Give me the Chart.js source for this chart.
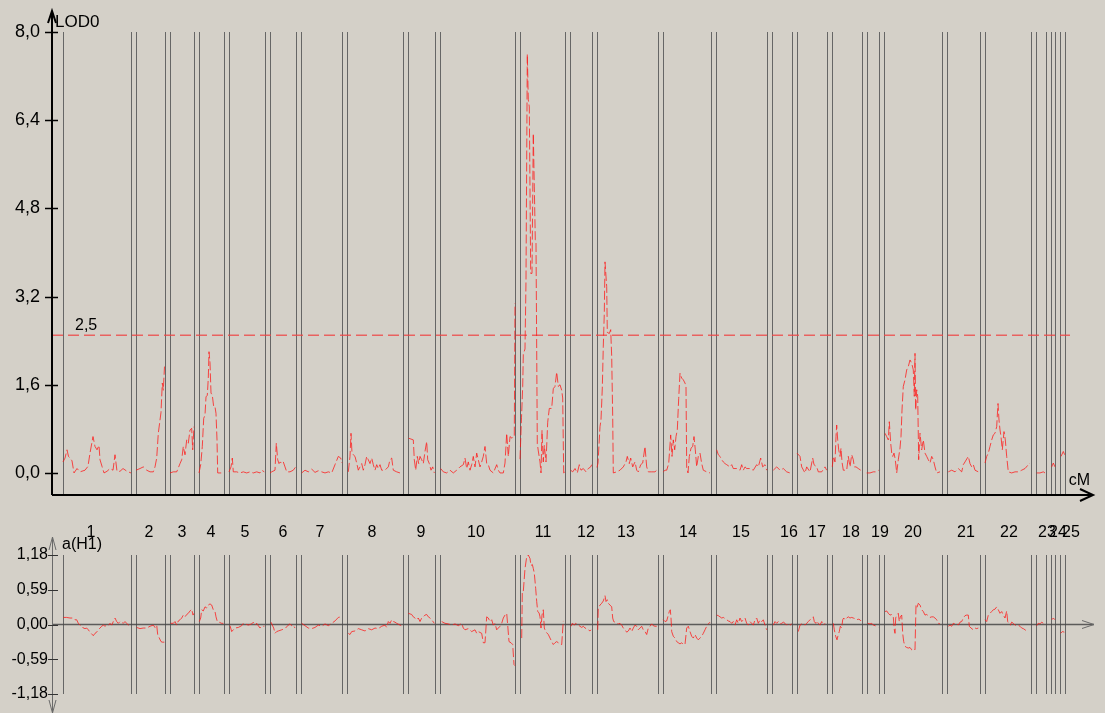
<!DOCTYPE html>
<html><head><meta charset="utf-8">
<script src="https://cdn.jsdelivr.net/npm/chart.js@4.4.1/dist/chart.umd.min.js"></script>
<style>
html,body{margin:0;padding:0;background:#d4d0c8;width:1105px;height:713px;overflow:hidden;}
#wrap{position:relative;width:1105px;height:713px;background:#d4d0c8;}
canvas{position:absolute;left:0;}
#top{top:0;} #bot{top:505px;}
</style></head><body>
<div id="wrap"><canvas id="top" width="1105" height="505"></canvas><canvas id="bot" width="1105" height="208"></canvas></div>
<script>
// ---- chromosomes (cumulative cM) ----
const chrNames = ['1','2','3','4','5','6','7','8','9','10','11','12','13','14','15','16','17','18','19','20','21','22','23','24','25'];
const chrStart = [0,73,107,136,166,207,238,284,345,377,457,507,534,599.7,653,709,734,768.7,803.7,821,884,921.5,973,987.7,997.3];
const chrEnd   = [68,102,131,161,202,233,279,340,372,452,502,529,594.7,648,704,729,763.7,798.7,816,879,916.7,968,982.7,992.3,1002];
const chrLabelAt = [28,86,119,148,182,220,257,309,358,413,480,523,563,625,678,726,754,788,817,850,903,946,984,995,1008];

// ---- axes ----
const lodTicks = [0, 1.6, 3.2, 4.8, 6.4, 8.0];
const effTicks = [-1.18, -0.59, 0, 0.59, 1.18];
const threshold = 2.5;
const thresholdSpan = [-11, 1007];
const xRange = [-11, 1027];

// ---- LOD0 profile [cM, LOD] ----
const lodTrace = [
[0,0.2],[2,0.27],[4,0.42],[5.5,0.3],[7,0.27],[9,0.22],[11,0],[14,0.08],[17,0.02],[22,0.05],[25,0.12],[27,0.36],[30,0.66],[32,0.48],[34,0.42],[36,0.5],[37,0.24],[39,0.12],[41,0],[44,0.03],[47,0.08],[50,0.05],[52,0.33],[54,0.03],[57,0.03],[60,0.08],[64,0.03],[68,0],
[73,0.05],[77,0.08],[80.3,0.11],[83.7,0.05],[87,0.02],[90.3,0.02],[92,0.11],[93.7,0.27],[95.3,0.72],[98,1.1],[99.3,1.63],[100.3,1.5],[101.5,1.93],
[107,0],[110.3,0.02],[113.7,0.02],[117,0.17],[118.7,0.24],[120.3,0.48],[122,0.33],[123.7,0.6],[125.3,0.54],[127,0.78],[128.7,0.81],[129.7,0.42],[131,0.84],
[136,0],[137.7,0.15],[139.3,0.48],[140.7,0.99],[142,1.05],[143,1.38],[144.3,1.41],[145.3,1.72],[146,2.2],[147,2.0],[148,1.45],[149.3,1.41],[150.7,1.2],[152,1.2],[153,1.08],[154,0.6],[154.7,0],[157,0],[161,0],
[166,0.02],[168,0.11],[169.3,0.27],[170.3,0.02],[173.7,0.02],[177,0],[180.3,0.02],[183.7,0],[187,0.02],[190.3,0],[193.7,0.02],[197,0],[198.7,0.05],[201.3,0.02],
[207,0],[208.7,0.02],[212,0.05],[213.3,0.54],[214.7,0.24],[216,0.17],[217.3,0.2],[218.7,0.17],[220.3,0.2],[222,0.11],[223.7,0.02],[227,0.02],[230.3,0.05],[232.7,0.11],
[238.7,0],[242,0.05],[245.3,0.02],[248.7,0.07],[252,0.01],[255.3,0.04],[258.7,0.02],[262,0],[265.3,0.02],[268.7,0],[272,0.15],[275.3,0.3],[277.7,0.27],[279,0.18],
[285.3,0.02],[287,0.3],[288,0.72],[289,0.36],[290.3,0.33],[292,0.3],[293.7,0.18],[295.3,0.05],[297,0.11],[298.7,0.17],[300.3,0.05],[302,0.15],[303.7,0.3],[305.3,0.24],[307,0.17],[308.7,0.27],[310.3,0.15],[312,0.05],[313.7,0.15],[315.3,0.08],[317,0.15],[318.7,0.05],[322,0.05],[325.3,0.11],[327,0.24],[328.7,0.27],[330.3,0.05],[333.7,0.02],[337,0],[339.7,0],
[345.7,0.63],[350.3,0.6],[351.3,0.24],[352.7,0.05],[354.3,0.3],[355.7,0.17],[357,0.3],[358.7,0.24],[360.3,0.17],[362,0.39],[363.7,0.57],[364.7,0.24],[366.3,0.17],[368,0.05],[369.7,0.11],[371.3,0],
[377.7,0.08],[380.3,0.02],[383.7,0],[387,0.05],[390.3,0],[393.7,0.05],[397,0.11],[400.3,0.15],[402,0.27],[403.7,0.08],[405.3,0.2],[407,0.05],[408.7,0.15],[410.3,0.3],[412,0.11],[413.7,0.36],[415.3,0.24],[417,0.11],[418.7,0.2],[420.3,0.3],[422,0.48],[423.7,0.17],[425.3,0.15],[427,0.05],[430.3,0],[433.7,0.15],[435.3,0.05],[437,0],[440.3,0],[442,0.18],[443.7,0.72],[445.3,0.3],[447,0.66],[449,0.63],[450.3,0.66],[451.3,0.66],[452,3.08],
[457,0.25],[458.5,1.0],[459.7,1.57],[460.3,2.15],[462,2.25],[463,3.5],[464.3,7.6],[465.3,6.77],[466.3,6.64],[467.7,3.62],[469,3.62],[470.3,6.16],[471.3,5.19],[472.3,4.23],[473,4.2],[474.3,0.53],[475.3,0.4],[477,0.2],[478,0],[479,0.77],[480.3,0.2],[481.3,0.5],[483,0.2],[484.7,0.92],[486.3,1.17],[488.7,1.17],[490.3,1.53],[492,1.57],[493.7,1.83],[495.3,1.57],[497,1.6],[498.7,1.5],[499.7,1.36],[500.7,0],[502,0.02],
[507.7,0.05],[509.7,0.02],[512,0.08],[514.3,0],[516.3,0.15],[518,0.05],[520.3,0.08],[523,0.02],[525.3,0.08],[527.7,0.11],[528.7,0.15],
[534,0.1],[535,0.18],[537,0.84],[538,0.96],[539.3,1.54],[540.3,2.3],[541.3,2.9],[542,3.83],[543.7,3.38],[544.3,2.55],[546.3,2.53],[547.7,2.6],[548.7,2.11],[549.7,1.02],[550.3,0],[553.7,0.02],[557,0.05],[560.3,0.11],[563,0.2],[564.3,0.3],[566.3,0.17],[567.7,0.27],[569.7,0.11],[572,0.2],[573.7,0.05],[575.3,0.02],[577.7,0.15],[579.7,0.18],[582,0.48],[583.7,0.11],[585.3,0.02],[588.7,0.02],[592,0.02],[593.7,0.05],
[600.3,0.02],[602,0.05],[603.7,0.05],[605.7,0.17],[607.7,0.69],[609,0.3],[610.3,0.6],[611.7,0.42],[613,0.66],[614.3,0.78],[615.7,1.35],[617,1.81],[618.7,1.72],[620.3,1.69],[622,1.63],[623,1.57],[623.7,0.1],[625,0],[626.3,0.3],[628,0.45],[629.7,0.48],[631,0.66],[632.3,0.42],[633.7,0.11],[635.3,0.3],[637,0.36],[638.7,0.17],[640.3,0.05],[643.7,0.02],[647,0],
[653.7,0.42],[655.3,0.33],[657,0.3],[658.7,0.24],[660.3,0.2],[662,0.17],[663.7,0.15],[667,0.11],[668.7,0.15],[670.3,0.08],[673.7,0.08],[677,0.05],[678.7,0.15],[680.3,0.05],[682,0.11],[683.7,0.08],[687,0.08],[690.3,0.05],[693.7,0.15],[695.3,0.11],[697.7,0.27],[699.7,0.11],[702,0.15],[703.7,0.05],
[710.3,0.05],[713.7,0.11],[717,0.05],[720.3,0.08],[723.7,0.02],[727,0],[728.7,0.02],
[734,0.36],[737,0.3],[738.7,0.11],[742,0],[743.7,0.11],[747,0.02],[749.7,0.27],[751,0.15],[753.7,0.11],[755.3,0.02],[758.7,0.02],[762,0.11],[763.7,0.05],
[769.3,0.11],[770.3,0.3],[772,0.2],[773,0.66],[773.7,0.87],[774.7,0.6],[775.7,0.42],[777,0.3],[778,0.45],[779,0.2],[780.3,0.05],[783.7,0.05],[785.3,0.3],[787,0.11],[788.7,0.33],[790.3,0.24],[791.3,0.11],[793,0.11],[795.3,0.08],[797.7,0.05],
[803.7,0],[807,0],[810.3,0.02],[813.7,0.02],[815.7,0.05],
[822,0.72],[823.7,0.66],[825.3,0.6],[826.3,0.93],[827.7,0.54],[828.7,0.36],[829.7,0.3],[831,0.36],[832.3,0.24],[833.7,0],[835.3,0.24],[837,0.45],[838,0.66],[839,1.14],[840.3,1.57],[842,1.69],[843.7,1.87],[845.3,1.93],[847,2.05],[848.7,1.99],[850.3,1.87],[851.3,1.39],[852,2.17],[852.7,1.14],[853.7,1.51],[854.7,1.39],[855.7,0.24],[857,0.72],[858.7,0.42],[860.3,0.6],[862,0.36],[863.7,0.3],[865.3,0.24],[867,0.18],[868.7,0.3],[870.3,0.24],[872,0.11],[873.7,0],[877,0.02],
[885.3,0.02],[888.7,0.05],[892,0.02],[895.3,0.08],[898.7,0.02],[900.3,0.15],[902,0.2],[905.3,0.3],[907,0.17],[908.7,0.11],[910.3,0.15],[912,0.05],[915.3,0.02],
[922,0.18],[923.7,0.3],[925.3,0.36],[927,0.48],[928.7,0.6],[930.3,0.69],[932,0.72],[933.7,0.84],[935,1.26],[936,0.96],[937,0.78],[938,0.66],[939.3,0.42],[941,0.75],[942.3,0.6],[943.7,0.3],[945.3,0.02],[948.7,0],[952,0.02],[955.3,0.02],[958.7,0.05],[962,0.08],[965.3,0.15],[967,0.18],
[973.7,0],[977,0],[980.3,0.02],[982,0],
[988.7,0.11],[990.3,0.18],[992,0.11],
[998,0.3],[1000.3,0.39],[1001.7,0.33]
];

// ---- additive effect a(H1) [cM, a] ----
const effTrace = [
[0.3,0.12],[3.7,0.12],[7,0.11],[10.3,0.11],[12,0.08],[13.7,0.08],[15.3,0.02],[17,-0.01],[18.7,-0.02],[20.3,-0.06],[22,-0.07],[23.7,-0.06],[25.3,-0.09],[27,-0.13],[28.7,-0.16],[30.3,-0.19],[32,-0.15],[33.7,-0.13],[35.3,-0.09],[37,-0.06],[38.7,-0.03],[40.3,-0.01],[42,-0.03],[43.7,-0.01],[45.3,-0.02],[47,0.02],[48.7,-0.01],[50.3,0.05],[52,0.11],[53.7,0.05],[55.3,0.02],[57,0.05],[58.7,0.04],[60.3,0.02],[62,0.05],[63.7,0.02],[65.3,-0.01],[67,-0.01],
[73.7,-0.05],[77,-0.07],[80.3,-0.06],[83.7,-0.06],[87,-0.03],[90.3,-0.01],[92,-0.05],[93.7,-0.01],[94.7,-0.17],[96.3,-0.23],[98,-0.29],[99.3,-0.3],[101.3,-0.3],
[107.7,0.02],[110.3,0.02],[112,0.05],[113.7,-0.01],[115.3,0.06],[117,0.08],[118.7,0.11],[120.3,0.16],[122,0.13],[123.7,0.17],[125.3,0.19],[127,0.23],[128.7,0.26],[130,0.16],[131,0.19],
[136.3,0.05],[137.7,0.11],[138.7,0.25],[140.3,0.23],[142,0.3],[143.7,0.28],[145.3,0.33],[147,0.35],[148.7,0.33],[150.3,0.25],[152,0.22],[153,0.13],[154.3,0.05],[156,0.04],[158.7,0.02],[160.3,0.02],
[167,-0.02],[168.7,-0.12],[170.3,-0.09],[172,-0.06],[175.3,-0.05],[178.7,-0.02],[180.3,0.02],[182,0.01],[185.3,-0.01],[188.7,0.01],[190.3,0.04],[192,-0.01],[193.7,0.02],[195.3,-0.02],[197,-0.06],[198.7,-0.03],[201.3,-0.03],
[208,0.04],[209.3,-0.01],[210.7,-0.06],[212,-0.15],[213.7,-0.12],[215.3,-0.11],[218.7,-0.09],[222,-0.07],[225.3,-0.01],[227,0.01],[228.7,-0.02],[230.3,-0.01],[232,-0.06],
[238.7,0.02],[242,-0.02],[245.3,-0.06],[248.7,-0.07],[252,-0.05],[255.3,-0.01],[258.7,-0.03],[262,0.01],[265.3,-0.02],[268.7,0.02],[272,0.06],[275.3,0.12],[278,0.13],
[285.3,-0.15],[287,-0.17],[288.7,-0.12],[292,-0.11],[295.3,-0.07],[298.7,-0.09],[302,-0.11],[305.3,-0.07],[308.7,-0.09],[312,-0.06],[315.3,-0.07],[318.7,-0.03],[322,-0.01],[323.7,-0.05],[325.3,0.05],[327,0.02],[328.7,0.08],[330.3,0.05],[332,0.04],[333.7,0.02],[337,-0.01],[338.7,-0.02],
[345.3,0.19],[348.7,0.17],[350.3,0.13],[352,0.11],[353.7,0.08],[355.3,0.11],[357,0.05],[358.7,0.11],[360.3,0.13],[362,0.16],[363.7,0.17],[365.3,0.13],[367,0.11],[368.7,0.08],[371.3,0.02],
[378.7,0.05],[382,0.02],[385.3,0.01],[388.7,-0.01],[392,0.01],[395.3,-0.02],[398.7,0.02],[400.3,-0.06],[402,-0.09],[405.3,-0.07],[408.7,-0.12],[412,-0.09],[413.7,-0.15],[415.3,-0.12],[418.7,-0.15],[420.3,-0.31],[422,-0.31],[423.7,0.13],[425.3,0.11],[427,0.05],[428.7,0.08],[430.3,-0.01],[432,0.02],[433.7,-0.09],[435.3,-0.06],[437,-0.03],[438.7,0.02],[440.3,0.11],[442,0.16],[443.7,0.19],[444.7,-0.01],[446,-0.29],[448,-0.31],[449.7,-0.34],[451,-0.68],[452,-0.7],
[458.7,-0.23],[459.3,0.56],[460.3,0.56],[462,0.95],[463.7,1.15],[465.3,1.18],[467,1.12],[468,1.0],[469.3,1.02],[470.3,0.95],[471.3,0.87],[472.7,0.61],[473.7,0.39],[474.7,0.22],[476,0.2],[477,0.13],[478,-0.06],[479,0.16],[480.3,0.25],[481.3,-0.06],[482.7,-0.12],[483.7,-0.14],[485.3,-0.17],[487,-0.23],[488.7,-0.29],[490.3,-0.34],[492,-0.31],[493.7,-0.29],[495.3,-0.31],[497,-0.34],[498.7,-0.34],[500.3,0.06],
[508,-0.03],[509.3,0.02],[511.3,-0.01],[512.7,0.02],[514,0.01],[515.3,-0.01],[517,-0.03],[518.7,-0.05],[520.3,-0.03],[522,-0.06],[523.7,-0.07],[525.3,-0.09],[527,-0.11],[528,-0.09],
[534.7,-0.09],[535.3,0.28],[537,0.33],[538.7,0.36],[540.3,0.4],[542,0.49],[543,0.39],[544.3,0.42],[545.3,0.36],[547,0.33],[548.7,0.3],[549.7,0.11],[550.7,0.05],[552,0.04],[553.7,0.02],[555.3,0.01],[557,0.02],[558.7,-0.01],[560.3,-0.06],[562,-0.09],[563.7,-0.13],[565.3,-0.11],[567,-0.06],[568.7,-0.12],[570.3,-0.06],[572,-0.01],[573.7,-0.03],[575.3,-0.09],[577,-0.06],[578.7,-0.03],[580.3,-0.09],[582,-0.12],[583.7,-0.17],[585.3,-0.06],[587,-0.03],[588.7,0.01],[590.3,-0.02],[592,-0.03],[593.7,-0.03],
[600.3,0.08],[602,0.05],[603.7,0.06],[605.3,0.16],[606.3,0.22],[607.3,0.25],[608,0.11],[608.7,-0.12],[610.3,-0.2],[612,-0.23],[613.7,-0.29],[615.3,-0.31],[617,-0.33],[618.7,-0.31],[620.3,-0.34],[622,-0.34],[623.7,-0.06],[625.3,-0.03],[627,-0.12],[628.7,-0.2],[630.3,-0.23],[632,-0.17],[633.7,-0.23],[635.3,-0.26],[637,-0.23],[638.7,-0.2],[640.3,-0.15],[642,-0.09],[643.7,-0.03],[645.3,0.01],[647,0.04],
[653.7,0.16],[655.3,0.15],[657,0.13],[658.7,0.11],[660.3,0.12],[662,0.1],[663.7,0.08],[665.3,0.06],[667,0.05],[668.7,0.02],[670.3,0.05],[672,-0.01],[673.7,0.08],[675.3,0.02],[677,0.11],[678.7,0.05],[680.3,0.08],[682,0.11],[683.7,0.02],[685.3,-0.01],[687,0.05],[688.7,0.02],[690.3,-0.01],[692,0.08],[693.7,0.11],[695.3,0.02],[697,0.08],[698.7,0.05],[700.3,0.08],[702,-0.01],[703.7,-0.09],
[710.3,-0.01],[712,0.05],[713.7,0.02],[715.3,0.05],[717,0.01],[718.7,0.02],[720.3,0.04],[722,0.02],[723.7,-0.01],[725.3,0.02],[727,-0.01],[728.7,0.01],
[735.3,-0.12],[737,-0.01],[738.7,0.01],[740.3,0.02],[742,-0.01],[743.7,0.02],[745.3,0.05],[747,0.08],[748.7,0.11],[750.3,0.13],[751.3,0.05],[752.7,0.02],[753.7,0.06],[755.3,0.02],[757,-0.01],[758.7,0.05],[760.3,-0.01],[762,0.02],
[770.3,0.02],[771.3,-0.09],[772.7,-0.2],[774,-0.26],[775.3,-0.17],[776.3,-0.12],[777.3,-0.03],[778.7,-0.06],[779.7,0.08],[780.7,0.11],[782,0.08],[783.7,0.11],[785.3,0.13],[787,0.11],[788.7,0.12],[790.3,0.11],[792,0.1],[793.7,0.08],[795.3,0.09],[797,0.08],[798,0.06],
[804.7,0.02],[807,0.01],[808.7,0.02],[810.3,-0.01],[812,-0.02],[813.7,-0.03],[815.3,-0.05],
[822,0.22],[823.7,0.23],[825.3,0.19],[827,0.16],[828.7,0.17],[830.3,0.13],[831.3,-0.09],[832,-0.15],[832.7,0.11],[833.7,0.16],[835.3,0.19],[836.3,0.05],[837.3,0.13],[838.7,0.16],[839.7,-0.15],[840.7,-0.29],[842,-0.37],[843.7,-0.39],[845.3,-0.4],[847,-0.39],[848.7,-0.43],[850.3,-0.41],[852,-0.43],[853,0.33],[854,0.29],[855.3,0.36],[857,0.33],[858.7,0.25],[860.3,0.22],[862,0.16],[863.7,0.17],[865.3,0.15],[867,0.12],[868.7,0.13],[870.3,0.13],[872,0.11],[873.7,0.08],[875.3,0.02],[877,0.01],
[885.3,-0.03],[887,-0.01],[888.7,-0.03],[890.3,0.02],[892,0.01],[893.7,0.02],[895.3,-0.01],[897,0.04],[898.7,0.05],[900.3,0.11],[902,0.15],[903.7,0.16],[905.3,0.16],[906.3,-0.03],[908,-0.06],[910.3,-0.09],[912,-0.06],[913.7,-0.07],[915.3,-0.06],
[922,0.08],[923.7,0.05],[925.3,0.16],[927,0.19],[928.7,0.22],[930.3,0.25],[932,0.26],[933.7,0.3],[935.3,0.25],[937,0.19],[938.7,0.22],[940.3,0.16],[942,0.11],[943.7,0.23],[944.7,0.05],[946,0.01],[947.3,-0.01],[948.7,0.04],[950.3,0.02],[952,-0.01],[953.7,-0.02],[955.3,-0.01],[957,-0.03],[958.7,-0.06],[960.3,-0.07],[962,-0.09],[963.7,-0.11],[965.3,-0.11],
[973.7,-0.02],[975.3,0.02],[977,0.01],[978.7,0.04],[980.3,0.02],
[988.7,0.08],[990.3,0.11],[992,0.08],
[997.7,-0.15],[999.3,-0.12],[1001.3,-0.13]
];

// ---- helpers ----
const FONT = '"Liberation Sans", Arial, Helvetica, sans-serif';
function chromosomeOf(x){ for(let i=chrStart.length-1;i>=0;i--){ if(x >= chrStart[i]-0.6) return i; } return 0; }
function withBreaks(trace){
  const out=[]; let prev=-1;
  trace.forEach(([x,y])=>{ const c=chromosomeOf(x); if(prev!==-1 && c!==prev) out.push({x:x-0.1,y:null}); out.push({x:x,y:y}); prev=c; });
  return out;
}
function drawChromLines(chart){
  const {ctx, chartArea:a, scales:{x}} = chart;
  ctx.save(); ctx.strokeStyle='#666'; ctx.lineWidth=1;
  chrStart.forEach((s,i)=>{ [s, chrEnd[i]].forEach(v=>{ const px=Math.round(x.getPixelForValue(v))+0.5; ctx.beginPath(); ctx.moveTo(px,a.top); ctx.lineTo(px,a.bottom); ctx.stroke(); }); });
  ctx.restore();
}
function fixAxis(s){ s.width = 52; s.paddingTop = 0; s.paddingBottom = 0; }
const traceStyle = {borderColor:'rgba(255,20,20,0.75)', borderWidth:1, borderDash:[9,3], pointRadius:0, spanGaps:false, tension:0};

const topDecor = {
  id:'topDecor',
  beforeDatasetsDraw(chart){ drawChromLines(chart); },
  afterDraw(chart){
    const {ctx, chartArea:a, scales:{x,y}} = chart;
    ctx.save();
    ctx.strokeStyle='#000'; ctx.lineWidth=2;
    ctx.beginPath(); ctx.moveTo(a.left, a.top-21); ctx.lineTo(a.left, a.bottom); ctx.stroke();
    ctx.beginPath(); ctx.moveTo(a.left-4, a.top-9); ctx.lineTo(a.left, a.top-21); ctx.lineTo(a.left+4, a.top-9); ctx.stroke();
    ctx.beginPath(); ctx.moveTo(a.left, a.bottom); ctx.lineTo(a.right+3, a.bottom); ctx.stroke();
    ctx.beginPath(); ctx.moveTo(a.right-10, a.bottom-6); ctx.lineTo(a.right+3, a.bottom); ctx.lineTo(a.right-10, a.bottom+6); ctx.stroke();
    ctx.lineWidth=1.5;
    lodTicks.forEach(v=>{ const py=Math.round(y.getPixelForValue(v))+0.5; ctx.beginPath(); ctx.moveTo(a.left-7,py); ctx.lineTo(a.left+6,py); ctx.stroke(); });
    ctx.fillStyle='#000'; ctx.font='17px '+FONT; ctx.textBaseline='middle'; ctx.textAlign='left';
    ctx.fillText('LOD0', a.left+3, a.top-10);
    ctx.font='16px '+FONT; ctx.textAlign='right';
    ctx.fillText('cM', a.right, a.bottom-14);
    ctx.textAlign='left';
    ctx.fillText(String(threshold).replace('.',','), x.getPixelForValue(thresholdSpan[0])+23, y.getPixelForValue(threshold)-10);
    ctx.restore();
  }
};

const botDecor = {
  id:'botDecor',
  beforeDatasetsDraw(chart){
    drawChromLines(chart);
    const {ctx, chartArea:a, scales:{y}} = chart;
    ctx.save(); ctx.strokeStyle='rgba(70,70,70,0.85)'; ctx.lineWidth=1.5;
    const y0=y.getPixelForValue(0);
    ctx.beginPath(); ctx.moveTo(a.left,y0); ctx.lineTo(a.right+4,y0); ctx.stroke();
    ctx.lineWidth=1; ctx.strokeStyle='#6a6a6a';
    ctx.beginPath(); ctx.moveTo(a.right-8,y0-4); ctx.lineTo(a.right+4,y0); ctx.lineTo(a.right-8,y0+4); ctx.stroke();
    ctx.restore();
  },
  afterDraw(chart){
    const {ctx, chartArea:a, scales:{x,y}} = chart;
    ctx.save();
    ctx.strokeStyle='#6a6a6a'; ctx.lineWidth=1;
    const ax=Math.round(a.left)+0.5;
    ctx.beginPath(); ctx.moveTo(ax, a.top-18); ctx.lineTo(ax, a.bottom+19); ctx.stroke();
    ctx.beginPath(); ctx.moveTo(ax-3.5, a.top-5); ctx.lineTo(ax, a.top-18); ctx.lineTo(ax+3.5, a.top-5); ctx.stroke();
    ctx.beginPath(); ctx.moveTo(ax-3.5, a.bottom+6); ctx.lineTo(ax, a.bottom+19); ctx.lineTo(ax+3.5, a.bottom+6); ctx.stroke();
    ctx.strokeStyle='#333';
    effTicks.forEach(v=>{ const py=Math.round(y.getPixelForValue(v))+0.5; ctx.beginPath(); ctx.moveTo(a.left-4,py); ctx.lineTo(a.left+6,py); ctx.stroke(); });
    ctx.fillStyle='#000'; ctx.font='16px '+FONT; ctx.textBaseline='middle'; ctx.textAlign='left';
    ctx.fillText('a(H1)', a.left+10, a.top-10);
    ctx.textAlign='center';
    chrNames.forEach((n,i)=>{ ctx.fillText(n, x.getPixelForValue(chrLabelAt[i]), a.top-22); });
    ctx.restore();
  }
};

Chart.defaults.font.family = FONT;

new Chart(document.getElementById('top'), {
  type:'line',
  data:{datasets:[
    Object.assign({data: withBreaks(lodTrace)}, traceStyle),
    {data: thresholdSpan.map(v=>({x:v,y:threshold})), borderColor:'rgba(238,70,70,0.8)', borderWidth:1.5, borderDash:[11,5], pointRadius:0}
  ]},
  options:{
    responsive:false, animation:false, events:[],
    layout:{padding:{top:32,right:15,bottom:10,left:0}},
    plugins:{legend:{display:false},tooltip:{enabled:false}},
    scales:{
      x:{type:'linear', min:xRange[0], max:xRange[1], display:false},
      y:{type:'linear', min:-0.4, max:8.0,
         afterBuildTicks:s=>{ s.ticks = lodTicks.map(v=>({value:v})); },
         afterFit:fixAxis,
         grid:{display:false, drawTicks:false}, border:{display:false},
         ticks:{padding:12, color:'#000', font:{family:FONT,size:18}, callback:v=>Number(v).toFixed(1).replace('.',',')}}
    }
  },
  plugins:[topDecor]
});

new Chart(document.getElementById('bot'), {
  type:'line',
  data:{datasets:[ Object.assign({data: withBreaks(effTrace)}, traceStyle) ]},
  options:{
    responsive:false, animation:false, events:[],
    layout:{padding:{top:50,right:15,bottom:19,left:0}},
    plugins:{legend:{display:false},tooltip:{enabled:false}},
    scales:{
      x:{type:'linear', min:xRange[0], max:xRange[1], display:false},
      y:{type:'linear', min:-1.18, max:1.18,
         afterBuildTicks:s=>{ s.ticks = effTicks.map(v=>({value:v})); },
         afterFit:fixAxis,
         grid:{display:false, drawTicks:false}, border:{display:false},
         ticks:{padding:4, color:'#000', font:{family:FONT,size:16}, callback:v=>Number(v).toFixed(2).replace('.',',')}}
    }
  },
  plugins:[botDecor]
});
</script>
</body></html>
